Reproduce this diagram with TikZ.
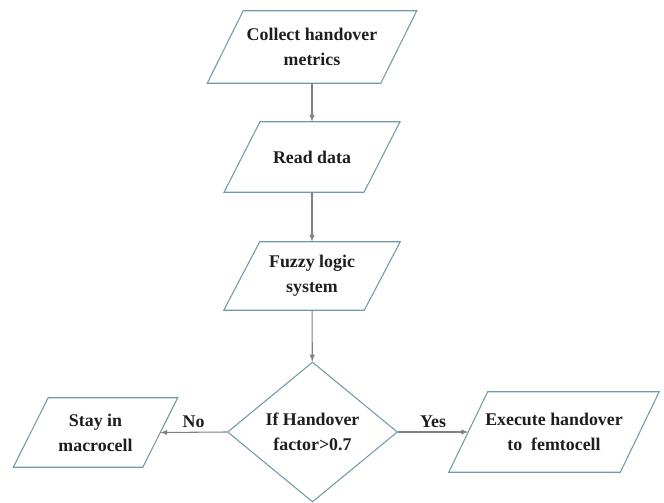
\documentclass[tikz,border=0pt]{standalone}
\usepackage{fontspec}
\setmainfont{Liberation Serif}[BoldFont={Liberation Serif Bold}]
\usepackage{tikz}
\tikzset{>=latex}
\usetikzlibrary{shapes.geometric}
\definecolor{boxline}{HTML}{6F9CA8}
\definecolor{flowline}{HTML}{808080}
\definecolor{boxtext}{HTML}{1E1E1E}
% parallelogram round a text node: #1 node name, #2 half of the slant
\newcommand{\ioframe}[2]{\draw[frame] ([xshift=-#2]#1.south west) -- ([xshift=-#2]#1.south east)
    -- ([xshift=#2]#1.north east) -- ([xshift=#2]#1.north west) -- cycle;}

\begin{document}
\begin{tikzpicture}[x=0.75pt, y=-0.75pt,
        frame/.style={draw=boxline, line width=0.8pt},
        iobox/.style={rectangle, inner sep=0pt, align=center,
            text=boxtext, font=\fontsize{13.4}{18.75}\selectfont\bfseries},
        decision/.style={frame, diamond, inner sep=0pt, align=center,
            text=boxtext, font=\fontsize{13.4}{18.75}\selectfont\bfseries},
        flow/.style={->, draw=flowline, line width=0.8pt},
        answer/.style={text=boxtext, font=\fontsize{13.4}{16}\selectfont\bfseries, inner sep=3pt}]
                \useasboundingbox (0, 0) rectangle (664, 503);
                \node[iobox, minimum width=129.75pt, minimum height=54pt] (collect) at (312, 47) {Collect handover\\metrics};
                \node[iobox, minimum width=104.6pt, minimum height=52.5pt] (read) at (312, 157) {Read data};
                \node[iobox, minimum width=105pt, minimum height=51pt] (fuzzy) at (312, 276) {Fuzzy logic\\system};
                \node[decision, minimum width=127.5pt, minimum height=105pt] (check) at (312.5, 432) {If Handover\\factor>0.7};
                \node[iobox, minimum width=96.75pt, minimum height=51.75pt] (stay) at (95.5, 432.5) {Stay in\\macrocell};
                \node[iobox, minimum width=128.25pt, minimum height=60pt] (execute) at (554, 432) {Execute handover\\to\ \ femtocell};
                \ioframe{collect}{13.5pt}
                \ioframe{read}{13.5pt}
                \ioframe{fuzzy}{13.5pt}
                \ioframe{stay}{13.1pt}
                \ioframe{execute}{14.6pt}
                \draw[flow] (collect) -- (read);
                \draw[flow] (read) -- (fuzzy);
                \draw[flow] (fuzzy) -- (check);
                \draw[flow] (check.west) -- (stay.east) node[answer, midway, above] (no) {No};
                \draw[flow] (check.east) -- (execute.west) node[answer, midway, above] (yes) {Yes};
            \end{tikzpicture}
\end{document}
